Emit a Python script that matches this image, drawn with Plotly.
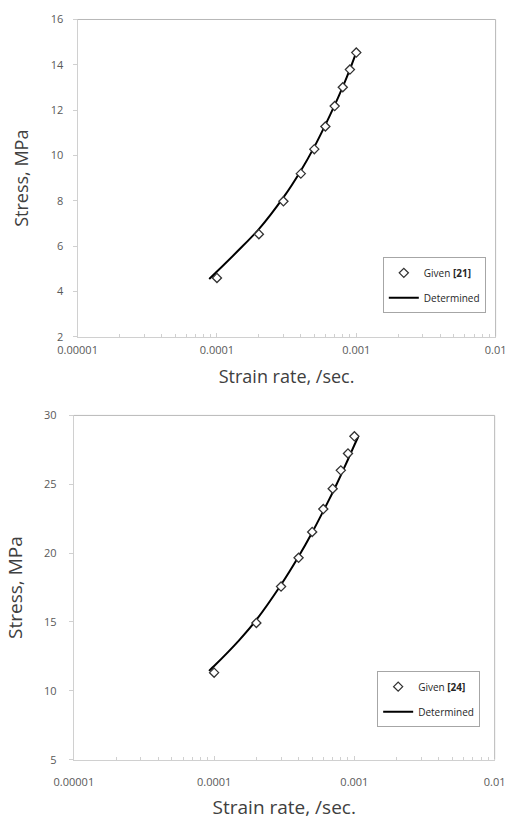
import plotly.graph_objects as go

# Measured data points (strain rate in /sec, stress in MPa)
strain_rate = [1e-4, 2e-4, 3e-4, 4e-4, 5e-4, 6e-4, 7e-4, 8e-4, 9e-4, 1e-3]
given_21 = [4.6, 6.53, 7.98, 9.2, 10.28, 11.28, 12.18, 13.01, 13.79, 14.54]
given_24 = [11.32, 14.93, 17.57, 19.66, 21.54, 23.2, 24.68, 26.01, 27.24, 28.48]

# Determined (fitted) curves
fit_rate_21 = [8.8e-5, 1e-4, 1.5e-4, 2e-4, 3e-4, 4e-4, 5e-4, 6e-4, 7e-4, 8e-4, 9e-4, 1e-3]
fit_21 = [4.55, 4.88, 5.95, 6.75, 8.15, 9.33, 10.38, 11.35, 12.22, 13.03, 13.8, 14.55]
fit_rate_24 = [9.2e-5, 1e-4, 1.5e-4, 2e-4, 3e-4, 4e-4, 5e-4, 6e-4, 7e-4, 8e-4, 9e-4, 1e-3, 1.065e-3]
fit_24 = [11.45, 11.8, 13.65, 15.15, 17.7, 19.75, 21.5, 23.05, 24.4, 25.65, 26.8, 27.85, 28.45]

x_tickvals = [1e-5, 1e-4, 1e-3, 1e-2]
x_ticktext = ["0.00001", "0.0001", "0.001", "0.01"]
y_ticks_top = [2, 4, 6, 8, 10, 12, 14, 16]
y_ticks_bottom = [5, 10, 15, 20, 25, 30]

FONT = "Open Sans"
TICK_COLOR = "#595959"
AXIS_COLOR = "#d0d0d0"
BORDER_COLOR = "#b8b8b8"

fig = go.Figure()

def add_panel(xaxis, yaxis, legend, rate_fit, fit, values, ref):
    fig.add_trace(go.Scatter(
        x=rate_fit, y=fit, mode="lines", name="Determined",
        line=dict(color="black", width=2, shape="spline", smoothing=0.6),
        xaxis=xaxis, yaxis=yaxis, legend=legend, legendgroup=legend + "b",
        legendrank=2,
    ))
    fig.add_trace(go.Scatter(
        x=strain_rate, y=values, mode="markers", name=f"Given <b>[{ref}]</b>",
        marker=dict(symbol="diamond", size=7, color="white",
                    line=dict(color="#333333", width=1.3)),
        xaxis=xaxis, yaxis=yaxis, legend=legend, legendgroup=legend + "a",
        legendrank=1,
    ))

add_panel("x", "y", "legend", fit_rate_21, fit_21, given_21, 21)
add_panel("x2", "y2", "legend2", fit_rate_24, fit_24, given_24, 24)

def xaxis_cfg(domain, anchor, standoff, label_off, size):
    return dict(
        type="log", range=[-5, -2], domain=domain, anchor=anchor,
        tickvals=x_tickvals, ticktext=x_ticktext,
        ticks="inside", ticklen=4, tickcolor=AXIS_COLOR,
        minor=dict(ticks="inside", ticklen=3, tickcolor=AXIS_COLOR, dtick="D1"),
        showline=True, linecolor=AXIS_COLOR, linewidth=1,
        showgrid=False, zeroline=False,
        tickfont=dict(family=FONT, size=11, color=TICK_COLOR),
        ticklabelstandoff=label_off,
        title=dict(text="Strain rate, /sec.", standoff=standoff,
                   font=dict(family=FONT, size=size, color="#404040")),
    )

def yaxis_cfg(domain, anchor, rng, ticks, standoff, label_off, size):
    return dict(
        range=rng, domain=domain, anchor=anchor, tickvals=ticks,
        ticks="outside", ticklen=4, tickcolor=AXIS_COLOR,
        showline=True, linecolor=AXIS_COLOR, linewidth=1,
        showgrid=False, zeroline=False,
        tickfont=dict(family=FONT, size=11, color=TICK_COLOR),
        ticklabelstandoff=label_off,
        title=dict(text="Stress, MPa", standoff=standoff,
                   font=dict(family=FONT, size=size, color="#404040")),
    )

W, H = 516, 820
top_x = [61.3 / W, 506 / W]
top_y = [(H - 335) / H, (H - 11.7) / H]
bot_x = [57.3 / W, 505 / W]
bot_y = [(H - 765.7) / H, (H - 415) / H]

legend_style = dict(
    bgcolor="white", bordercolor="#a6a6a6", borderwidth=1,
    font=dict(family=FONT, size=10, color="#262626"),
    xanchor="left", yanchor="top", tracegroupgap=6,
    itemwidth=30, traceorder="grouped",
)

fig.update_layout(
    width=W, height=H,
    margin=dict(l=0, r=0, t=0, b=0),
    paper_bgcolor="white", plot_bgcolor="white",
    xaxis=xaxis_cfg(top_x, "y", 14, 3, 18),
    yaxis=yaxis_cfg(top_y, "x", [2, 16], y_ticks_top, 17, 7, 18),
    xaxis2=xaxis_cfg(bot_x, "y2", 13, 12, 19),
    yaxis2=yaxis_cfg(bot_y, "x2", [5, 30], y_ticks_bottom, 16, 10, 19),
    legend=dict(x=386 / W, y=(H - 254) / H, **legend_style),
    legend2=dict(x=380 / W, y=(H - 675.5) / H, **legend_style),
    shapes=[
        # top and right frame edges of each plot area
        dict(type="line", xref="x domain", yref="y domain", x0=0, x1=1, y0=1, y1=1,
             line=dict(color=BORDER_COLOR, width=1)),
        dict(type="line", xref="x domain", yref="y domain", x0=1, x1=1, y0=0, y1=1,
             line=dict(color=BORDER_COLOR, width=1)),
        dict(type="line", xref="x2 domain", yref="y2 domain", x0=0, x1=1, y0=1, y1=1,
             line=dict(color=BORDER_COLOR, width=1)),
        dict(type="line", xref="x2 domain", yref="y2 domain", x0=1, x1=1, y0=0, y1=1,
             line=dict(color=BORDER_COLOR, width=1)),
    ],
)

fig.write_html("out.html")
